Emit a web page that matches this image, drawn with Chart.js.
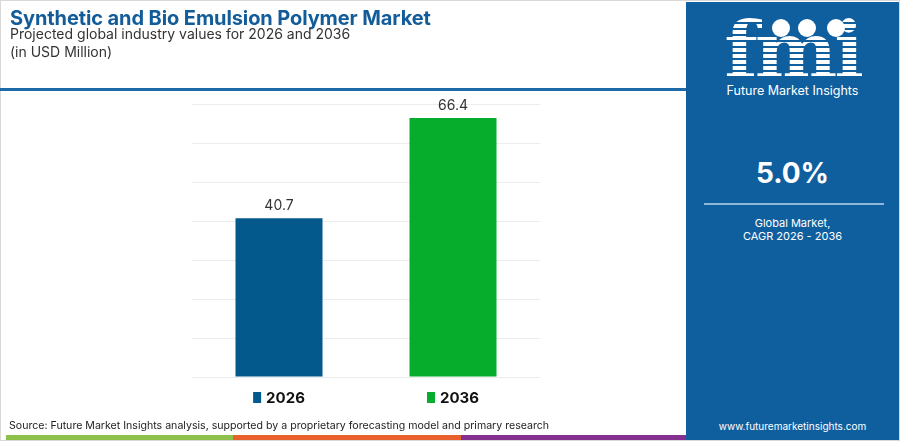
<!DOCTYPE html>
<html>
<head>
<meta charset="utf-8">
<script src="https://cdn.jsdelivr.net/npm/chart.js@4.4.1/dist/chart.umd.min.js"></script>
<style>
  html, body { margin: 0; padding: 0; background: #fff; }
  body { width: 900px; height: 441px; position: relative; overflow: hidden; font-family: Inter, "Open Sans", sans-serif; }
  #frame { position: absolute; left: 0; top: 0; width: 900px; height: 441px; box-sizing: border-box; border: 1px solid #d8d8d8; }
  #title { position: absolute; left: 10px; top: 6px; font-size: 20px; font-weight: 700; color: #135c9a; letter-spacing: -0.1px; white-space: nowrap; }
  #sub1 { position: absolute; left: 10px; top: 25px; font-size: 14px; color: #333; white-space: nowrap; }
  #sub2 { position: absolute; left: 10px; top: 43px; font-size: 14px; color: #333; white-space: nowrap; }
  #rule { position: absolute; left: 0; top: 88px; width: 686px; height: 3px; background: #1d6aa8; }
  #chartBox { position: absolute; left: 0; top: 0; width: 684px; height: 441px; }
  #source { position: absolute; left: 9px; top: 419px; font-size: 10.6px; color: #222; white-space: nowrap; }
  #stripe { position: absolute; left: 6px; top: 435px; height: 5px; width: 682px; display: flex; }
  #stripe div { flex: 1; }
  #panel { position: absolute; left: 686px; top: 2px; width: 213px; height: 438px; background: #0f5f9f; color: #fff; text-align: center; overflow: hidden; }
  #logo { position: absolute; left: 0; width: 213px; top: 10px; font-family: "DejaVu Serif", serif; font-weight: 700; font-size: 78px; line-height: 78px; letter-spacing: -3px;
          color: transparent; background: repeating-linear-gradient(180deg, #fff 0 4px, #0f5f9f 4px 6px); -webkit-background-clip: text; background-clip: text; }
  .globe { position: absolute; width: 18px; height: 18px; border-radius: 50%; background: #fff; top: 17px; }
  #brand { position: absolute; left: 0; width: 213px; top: 81px; font-size: 12.5px; }
  #cagr { position: absolute; left: 0; width: 213px; top: 154px; font-size: 28px; font-weight: 700; }
  #line { position: absolute; left: 18px; top: 201px; width: 180px; height: 2px; background: #8fb7d9; }
  #glob { position: absolute; left: 0; width: 213px; top: 215px; font-size: 11px; line-height: 13px; }
  #web { position: absolute; left: 0; width: 213px; top: 418px; font-size: 10px; }
</style>
</head>
<body>
<div id="frame"></div>
<div id="chartBox"><canvas id="chart"></canvas></div>
<div id="title">Synthetic and Bio Emulsion Polymer Market</div>
<div id="sub1">Projected global industry values for 2026 and 2036</div>
<div id="sub2">(in USD Million)</div>
<div id="rule"></div>
<div id="source">Source: Future Market Insights analysis, supported by a proprietary forecasting model and primary research</div>
<div id="stripe"><div style="background:#8cc04b"></div><div style="background:#e8612c"></div><div style="background:#84308f"></div></div>
<div id="panel">
  <div id="logo">fmi</div>
  <div class="globe" style="left:86px"></div>
  <div class="globe" style="left:112px"></div>
  <div class="globe" style="left:141px"></div>
  <div id="brand">Future Market Insights</div>
  <div id="cagr">5.0%</div>
  <div id="line"></div>
  <div id="glob">Global Market,<br>CAGR 2026 - 2036</div>
  <div id="web">www.futuremarketinsights.com</div>
</div>
<script>
// valeurs du graphique
const years = ["2026", "2036"];
const values = [40.7, 66.4];
const barColors = ["#03588c", "#06ac2c"];
const yMax = 70;
const yStep = 10;

// étiquettes au-dessus des barres + légende sous chaque barre
const barText = {
  id: 'barText',
  afterDatasetsDraw(chart) {
    const ctx = chart.ctx;
    const meta = chart.getDatasetMeta(0);
    ctx.save();
    ctx.textAlign = 'center';
    meta.data.forEach((bar, i) => {
      ctx.fillStyle = '#333';
      ctx.font = '14px Inter, "Open Sans", sans-serif';
      ctx.textBaseline = 'bottom';
      ctx.fillText(values[i].toFixed(1), bar.x, bar.y - 5);

      ctx.font = 'bold 15px Inter, "Open Sans", sans-serif';
      const w = ctx.measureText(years[i]).width;
      const left = bar.x - (w + 13) / 2;
      ctx.fillStyle = barColors[i];
      ctx.fillRect(left, 392, 8, 11);
      ctx.fillStyle = '#111';
      ctx.textAlign = 'left';
      ctx.textBaseline = 'middle';
      ctx.fillText(years[i], left + 13, 398);
      ctx.textAlign = 'center';
    });
    ctx.restore();
  }
};

new Chart(document.getElementById("chart"), {
  type: 'bar',
  data: {
    labels: years,
    datasets: [{
      data: values,
      backgroundColor: barColors,
      barPercentage: 0.5,
      categoryPercentage: 1
    }]
  },
  options: {
    responsive: true,
    maintainAspectRatio: false,
    animation: false,
    layout: { padding: { left: 192, right: 144, top: 104, bottom: 64 } },
    plugins: { legend: { display: false }, tooltip: { enabled: false } },
    scales: {
      x: {
        ticks: { display: false },
        grid: { display: false, drawTicks: false },
        border: { display: false }
      },
      y: {
        min: 0, max: yMax,
        ticks: { display: false, stepSize: yStep },
        grid: { color: '#ececec', lineWidth: 1, drawTicks: false },
        border: { display: false }
      }
    }
  },
  plugins: [barText]
});
</script>
</body>
</html>
